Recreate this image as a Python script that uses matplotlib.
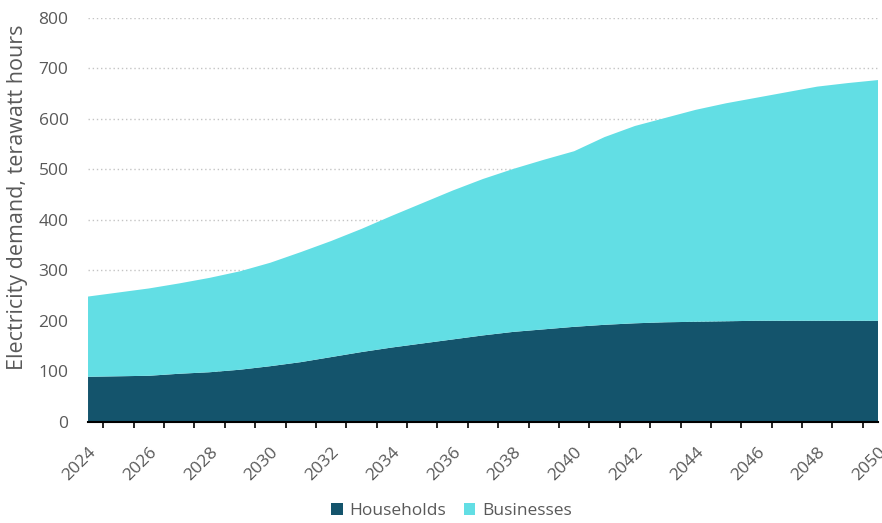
"""
Stacked area chart of projected electricity demand, households vs businesses.
"""

import matplotlib.pyplot as plt
import numpy as np

YEARS = list(range(2024, 2051))
HOUSEHOLDS = [89, 90, 91, 95, 98, 103, 110, 118, 128, 138, 147, 155, 163, 171,
              178, 183, 188, 192, 195, 197, 198, 199, 200, 200, 200, 200, 200]
BUSINESSES = [159, 166, 173, 179, 187, 195, 205, 218, 230, 244, 261, 278, 295,
              310, 323, 336, 348, 372, 391, 405, 420, 432, 442, 453, 464, 471, 477]
SERIES_NAMES = ["Households", "Businesses"]
COLORS = ["#14546c", "#62dee4"]
Y_TICKS = [0, 100, 200, 300, 400, 500, 600, 700, 800]
X_LABEL_YEARS = list(range(2024, 2051, 2))

TEXT_COLOR = "#595959"
plt.rcParams["font.family"] = ["Open Sans", "DejaVu Sans"]

fig = plt.figure(figsize=(8.82, 5.23), dpi=100)
ax = fig.add_axes([0.0998, 0.1937, 0.8957, 0.7719])

ax.stackplot(YEARS, HOUSEHOLDS, BUSINESSES, colors=COLORS,
             labels=SERIES_NAMES, linewidth=0)

ax.set_xlim(YEARS[0], YEARS[-1])
ax.set_ylim(0, 800)

# dotted gridlines, skipping the zero line
for y in Y_TICKS[1:]:
    ax.axhline(y, color="#c4c4c4", linestyle=(0, (1, 2)), linewidth=1.0, zorder=0)

ax.set_yticks(Y_TICKS)
ax.set_yticklabels([str(v) for v in Y_TICKS], fontsize=12.5, color=TEXT_COLOR)
ax.tick_params(axis="y", length=0, pad=14)

ax.set_xticks(X_LABEL_YEARS)
ax.set_xticklabels([str(v) for v in X_LABEL_YEARS], fontsize=12.5, color=TEXT_COLOR,
                   rotation=45, ha="right", va="top", rotation_mode="anchor")
ax.tick_params(axis="x", which="major", length=0, pad=16)
minor = list(np.arange(YEARS[0] + 0.5, YEARS[-1], 1.0)) + [YEARS[-1]]
ax.set_xticks(minor, minor=True)
ax.tick_params(axis="x", which="minor", length=4, width=1.2, color="black",
               direction="out")

for side in ["top", "right", "left"]:
    ax.spines[side].set_visible(False)
ax.spines["bottom"].set_color("black")
ax.spines["bottom"].set_linewidth(1.5)
ax.spines["bottom"].set_zorder(5)

ax.set_ylabel("Electricity demand, terawatt hours", fontsize=15.5,
              color=TEXT_COLOR)
ax.yaxis.set_label_coords(-0.076, 0.555)

handles, labels = ax.get_legend_handles_labels()
fig.legend(handles, labels, loc="lower center", bbox_to_anchor=(0.512, -0.022),
           ncol=2, frameon=False, fontsize=12.5, handlelength=0.65,
           handleheight=0.65, handletextpad=0.4, columnspacing=1.0,
           labelcolor=TEXT_COLOR)

fig.savefig("out.png", dpi=100)
